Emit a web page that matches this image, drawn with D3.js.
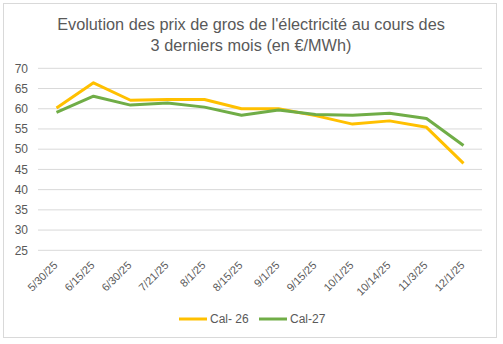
<!DOCTYPE html>
<html><head><meta charset="utf-8">
<script src="https://cdn.jsdelivr.net/npm/d3@7"></script>
<style>body{margin:0;background:#fff}svg{display:block;font-family:"Liberation Sans",Arial,sans-serif}</style>
</head><body><svg id="c" width="503" height="344"></svg>
<script>
const categories = ["5/30/25","6/15/25","6/30/25","7/21/25","8/1/25","8/15/25","9/1/25","9/15/25","10/1/25","10/14/25","11/3/25","12/1/25"];
const cal26 = [60.2,66.4,62.1,62.3,62.3,60.0,60.0,58.3,56.2,57.0,55.4,46.5];
const cal27 = [59.1,63.1,60.9,61.4,60.4,58.4,59.7,58.6,58.4,58.9,57.6,50.9];
const yTicks = [25,30,35,40,45,50,55,60,65,70];
const seriesNames = ["Cal- 26","Cal-27"];
const colors = ["#FFC000","#70AD47"];
const titleLines = ["Evolution des prix de gros de l'électricité au cours des","3 derniers mois (en €/MWh)"];

const svg = d3.select("#c");
svg.append("rect").attr("x",3.5).attr("y",3.5).attr("width",493).attr("height",334)
  .attr("fill","#fff").attr("stroke","#D9D9D9");

const L=38,R=482,T=68.3,B=250.3;
const x = d3.scaleBand().domain(categories).range([L,R]);
const y = d3.scaleLinear().domain([25,70]).range([B,T]);

svg.append("g").selectAll("line").data(yTicks).join("line")
  .attr("x1",L).attr("x2",R).attr("y1",d=>y(d)).attr("y2",d=>y(d))
  .attr("stroke","#D9D9D9").attr("stroke-width",1);

svg.append("g").selectAll("text").data(yTicks).join("text")
  .attr("x",28).attr("y",d=>y(d)).attr("dy","0.35em").attr("text-anchor","end")
  .attr("font-size",12).attr("fill","#595959").text(d=>d);

svg.append("g").selectAll("text").data(categories).join("text")
  .attr("transform",d=>`translate(${x(d)+x.bandwidth()/2-1},${B+13}) rotate(-45)`)
  .attr("text-anchor","end").attr("dy","0.35em")
  .attr("font-size",11).attr("fill","#595959").text(d=>d);

const line = d3.line().x((d,i)=>x(categories[i])+x.bandwidth()/2).y(d=>y(d));
[cal26,cal27].forEach((s,i)=>{
  svg.append("path").datum(s).attr("d",line).attr("fill","none")
    .attr("stroke",colors[i]).attr("stroke-width",3).attr("stroke-linejoin","round");
});

svg.append("g").selectAll("text").data(titleLines).join("text")
  .attr("x",251).attr("y",(d,i)=>30+i*21).attr("text-anchor","middle")
  .attr("font-size",16.3).attr("fill","#595959").text(d=>d);

const lg = [{x:179},{x:259}];
seriesNames.forEach((n,i)=>{
  svg.append("line").attr("x1",lg[i].x).attr("x2",lg[i].x+28).attr("y1",319).attr("y2",319)
    .attr("stroke",colors[i]).attr("stroke-width",3);
  svg.append("text").attr("x",lg[i].x+31).attr("y",319).attr("dy","0.35em")
    .attr("font-size",12).attr("fill","#595959").text(n);
});
</script></body></html>
